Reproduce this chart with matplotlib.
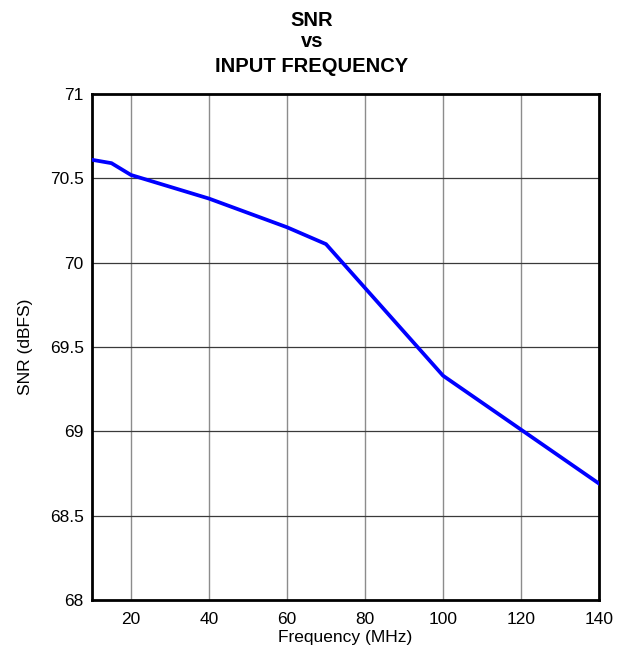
import matplotlib
matplotlib.use("Agg")
import matplotlib.pyplot as plt

plt.rcParams['font.family'] = ['Liberation Sans', 'DejaVu Sans']

# Data
freq_mhz = [10, 15, 20, 40, 60, 70, 100, 120, 140]
snr_dbfs = [70.61, 70.59, 70.52, 70.38, 70.21, 70.11, 69.33, 69.01, 68.69]

x_ticks = [20, 40, 60, 80, 100, 120, 140]
y_ticks = [68, 68.5, 69, 69.5, 70, 70.5, 71]
y_labels = ['68', '68.5', '69', '69.5', '70', '70.5', '71']

fig = plt.figure(figsize=(6.24, 6.52), dpi=100)
ax = fig.add_axes([0.1474, 0.0798, 0.8126, 0.776])

ax.plot(freq_mhz, snr_dbfs, color='#0000ff', linewidth=2.7, solid_joinstyle='miter', zorder=3)

ax.set_xlim(10, 140)
ax.set_ylim(68, 71)
ax.set_xticks(x_ticks)
ax.set_yticks(y_ticks)
ax.set_yticklabels(y_labels)

# vertical grid lighter, horizontal darker
for xv in x_ticks[:-1]:
    ax.axvline(xv, color='#8c8c8c', linewidth=1.0, zorder=1)
for yv in y_ticks[1:-1]:
    ax.axhline(yv, color='#3a3a3a', linewidth=0.9, zorder=1)

for s in ax.spines.values():
    s.set_linewidth(2.0)
    s.set_color('black')

ax.tick_params(length=0, labelsize=12.5)
ax.tick_params(axis='y', pad=6)
ax.tick_params(axis='x', pad=9)
ax.set_xlabel('Frequency (MHz)', fontsize=12.5, labelpad=2)
ax.set_ylabel('SNR (dBFS)', fontsize=12.5, labelpad=12)

fig.text(0.5, 0.968, 'SNR', ha='center', va='center', fontsize=14.5, fontweight='bold')
fig.text(0.5, 0.936, 'vs', ha='center', va='center', fontsize=14.5, fontweight='bold')
fig.text(0.5, 0.898, 'INPUT FREQUENCY', ha='center', va='center', fontsize=14.5, fontweight='bold')

fig.savefig('out.png', dpi=100)
